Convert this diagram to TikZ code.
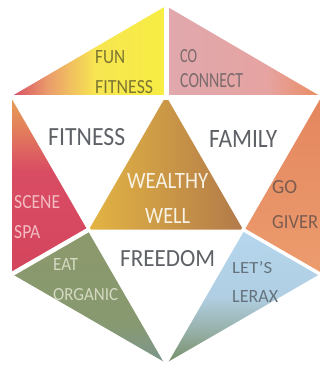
\documentclass[tikz,border=0pt]{standalone}
\usepackage{fontspec}
\setmainfont{Carlito}
\usepackage{graphicx}
\newcommand{\fitbox}[3]{\resizebox{#1pt}{#2pt}{#3}}
\definecolor{cGray}{HTML}{5E6166}
\definecolor{cOlive}{HTML}{7D7530}
\definecolor{cMauve}{HTML}{7A6A6C}
\definecolor{cWarm}{HTML}{F8F2E4}
\definecolor{cPinkTxt}{HTML}{F3BCC3}
\definecolor{cBrown}{HTML}{7C5C50}
\definecolor{cSage}{HTML}{D5D9C2}
\definecolor{cSlate}{HTML}{66737E}
\pgfdeclarehorizontalshading{yelshade}{100bp}{
  rgb(0bp)=(0.85,0.31,0.40); rgb(25bp)=(0.85,0.31,0.40);
  rgb(37bp)=(0.92,0.62,0.42); rgb(52bp)=(0.97,0.90,0.32);
  rgb(75bp)=(0.97,0.93,0.26); rgb(100bp)=(0.97,0.93,0.26)}
\pgfdeclarehorizontalshading{pinkshade}{100bp}{
  rgb(0bp)=(0.88,0.66,0.68); rgb(25bp)=(0.88,0.66,0.68);
  rgb(58bp)=(0.90,0.64,0.63); rgb(75bp)=(0.92,0.55,0.38);
  rgb(100bp)=(0.92,0.55,0.38)}
\pgfdeclareverticalshading{redshade}{100bp}{
  rgb(0bp)=(0.83,0.27,0.36); rgb(25bp)=(0.83,0.27,0.36);
  rgb(54bp)=(0.85,0.30,0.39); rgb(66bp)=(0.89,0.50,0.36);
  rgb(75bp)=(0.90,0.63,0.33); rgb(100bp)=(0.90,0.63,0.33)}
\pgfdeclareverticalshading{blueshade}{100bp}{
  rgb(0bp)=(0.47,0.56,0.40); rgb(25bp)=(0.47,0.56,0.40);
  rgb(38bp)=(0.60,0.70,0.68); rgb(50bp)=(0.69,0.81,0.89);
  rgb(75bp)=(0.71,0.84,0.93); rgb(100bp)=(0.71,0.84,0.93)}
\pgfdeclareverticalshading{greenshade}{100bp}{
  rgb(0bp)=(0.49,0.59,0.56); rgb(25bp)=(0.49,0.59,0.56);
  rgb(40bp)=(0.53,0.60,0.44); rgb(75bp)=(0.55,0.60,0.42);
  rgb(100bp)=(0.55,0.60,0.42)}
\begin{document}
\begin{tikzpicture}[x=1pt,y=-1pt,
  lbl/.style={inner sep=0pt, anchor=base west},
  gap/.style={white, line width=4.5pt}]
\useasboundingbox (0,0) rectangle (320,365);
\fill[white] (0,0) rectangle (320,365);
% hexagon points
\coordinate (T)  at (166,6);
\coordinate (UR) at (320,96);
\coordinate (LR) at (320,274);
\coordinate (B)  at (166,363);
\coordinate (LL) at (12,274);
\coordinate (UL) at (12,96);
\coordinate (M1) at (166,96);
\coordinate (M2) at (89,229.5);
\coordinate (M3) at (243,229.5);
% outer triangles
\shade[shading=yelshade] (UL) -- (T) -- (M1) -- cycle;
\shade[shading=pinkshade] (T) -- (UR) -- (M1) -- cycle;
\shade[shading=redshade] (UL) -- (M2) -- (LL) -- cycle;
\shade[shading=greenshade] (LL) -- (M2) -- (B) -- cycle;
\shade[top color={rgb,255:red,228;green,134;blue,94}, bottom color={rgb,255:red,236;green,156;blue,110}] (UR) -- (LR) -- (M3) -- cycle;
\shade[shading=blueshade] (M3) -- (LR) -- (B) -- cycle;
% central triangle
\shade[left color={rgb,255:red,227;green,180;blue,67}, right color={rgb,255:red,178;green,122;blue,74}] (M1) -- (M2) -- (M3) -- cycle;
% white gaps
\draw[gap] ([yshift=-1.5pt]UL) -- ([yshift=-1.5pt]UR);
\draw[gap] ([xshift=0.5pt]T) -- ([xshift=0.5pt]M1);
\draw[gap] (LL) -- (M2);
\draw[gap, line width=3.5pt] (LR) -- (M3);
\draw[gap, line width=3pt] (UL) -- (B);
\draw[gap, line width=3pt] (UR) -- (B);
% labels
\node[lbl, text=cOlive] (fun) at (95,63) {\fitbox{30}{13}{FUN}};
\node[lbl, text=cOlive] (funfit) at (95,93) {\fitbox{58}{13}{FITNESS}};
\node[lbl, text=cMauve] (co) at (180,62) {\fitbox{17}{13}{CO}};
\node[lbl, text=cMauve] (connect) at (180,87) {\fitbox{63}{14}{CONNECT}};
\node[lbl, text=cGray] (fitness) at (48,145) {\fitbox{77}{17}{FITNESS}};
\node[lbl, text=cGray] (family) at (209,147) {\fitbox{68}{17}{FAMILY}};
\node[lbl, text=cWarm] (wealthy) at (127,188) {\fitbox{81}{15}{WEALTHY}};
\node[lbl, text=cWarm] (well) at (145,223) {\fitbox{45}{15}{WELL}};
\node[lbl, text=cPinkTxt] (scene) at (14,208) {\fitbox{46}{13}{SCENE}};
\node[lbl, text=cPinkTxt] (spa) at (14,238) {\fitbox{26}{13}{SPA}};
\node[lbl, text=cBrown] (go) at (272,193) {\fitbox{25}{13}{GO}};
\node[lbl, text=cBrown] (giver) at (272,228) {\fitbox{46}{13}{GIVER}};
\node[lbl, text=cGray] (freedom) at (120,266) {\fitbox{95}{16}{FREEDOM}};
\node[lbl, text=cSage] (eat) at (53,270) {\fitbox{25}{12}{EAT}};
\node[lbl, text=cSage] (organic) at (53,300) {\fitbox{65}{12}{ORGANIC}};
\node[lbl, text=cSlate] (lets) at (232,273) {\fitbox{40}{12}{LET'S}};
\node[lbl, text=cSlate] (lerax) at (232,302) {\fitbox{46}{12}{LERAX}};
\end{tikzpicture}
\end{document}
